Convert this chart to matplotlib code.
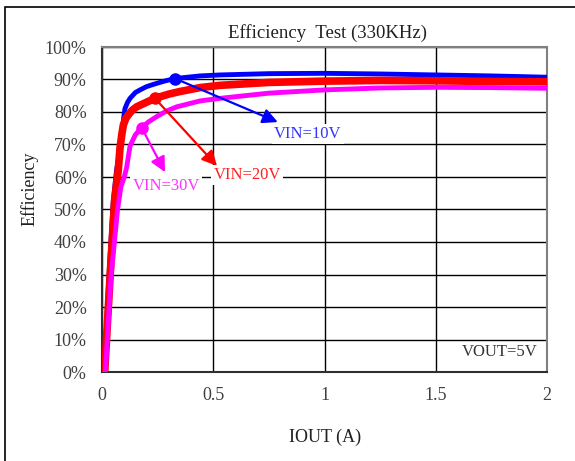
import matplotlib
matplotlib.use("Agg")
import matplotlib.pyplot as plt
from matplotlib.patches import Rectangle

# ---- data ----
iout_10v = [0.01, 0.03, 0.05, 0.065, 0.08, 0.09, 0.097, 0.103, 0.115, 0.126, 0.15, 0.171, 0.2, 0.231,
            0.28, 0.328, 0.44, 0.53, 0.75, 1.0, 1.25, 1.5, 1.75, 2.0]
eff_10v = [0, 28, 52, 62, 68, 73, 78, 81, 83, 84.2, 86, 86.8, 87.8, 88.5,
           89.5, 90.3, 91.1, 91.4, 91.8, 91.9, 91.7, 91.4, 91.1, 90.7]

iout_20v = [0.012, 0.036, 0.057, 0.073, 0.081, 0.09, 0.096, 0.107, 0.118, 0.135, 0.156, 0.2, 0.238,
            0.3, 0.35, 0.44, 0.53, 0.75, 1.0, 1.25, 1.5, 1.75, 2.0]
eff_20v = [0, 29, 53, 62, 69, 73.5, 76, 78, 79.1, 80.5, 81.6, 83, 84.2,
           85.5, 86.3, 87.5, 88.2, 89.1, 89.5, 89.7, 89.6, 89.4, 89.3]

iout_30v = [0.015, 0.04, 0.07, 0.085, 0.1, 0.111, 0.12, 0.126, 0.15, 0.178, 0.21, 0.246, 0.29, 0.336,
            0.44, 0.53, 0.75, 1.0, 1.25, 1.5, 1.75, 2.0]
eff_30v = [0, 29, 50, 57, 60, 63, 67, 69.5, 73, 75.2, 77, 78.6, 80.3, 81.6,
           83.4, 84.2, 85.8, 86.8, 87.4, 87.6, 87.5, 87.3]

marker_idx_10v = 15
marker_idx_20v = 12
marker_idx_30v = 9

x_ticks = [0, 0.5, 1, 1.5, 2]
x_tick_labels = ["0", "0.5", "1", "1.5", "2"]
y_ticks = list(range(0, 101, 10))
y_tick_labels = [f"{v}%" for v in y_ticks]

series_labels = ["VIN=10V", "VIN=20V", "VIN=30V"]
label_pos = [(0.926, 73.2), (0.652, 60.6), (0.288, 57.2)]
arrow_tips = [(0.79, 76.9), (0.517, 63.4), (0.283, 61.5)]

# ---- figure ----
plt.rcParams['font.family'] = ['Liberation Serif', 'DejaVu Serif']
W, H = 575, 461
fig = plt.figure(figsize=(W / 100, H / 100), dpi=100)
ax = fig.add_axes([102 / W, 1 - 372 / H, (547 - 102) / W, (372 - 47) / H])

fs = 13
colors = ['#0000ff', '#ff0000', '#ff00ff']
text_colors = ['#3333ff', '#ff2020', '#ff33ff']
lws = [3.5, 5.5, 3.5]

data = [(iout_10v, eff_10v, marker_idx_10v),
        (iout_20v, eff_20v, marker_idx_20v),
        (iout_30v, eff_30v, marker_idx_30v)]

for (xs, ys, mi), c, lw in zip(data, colors, lws):
    ax.plot(xs, ys, color=c, lw=lw, solid_capstyle='round', solid_joinstyle='round',
            marker='o', markevery=[mi], markersize=8, zorder=3)

for (xs, ys, mi), c, tc, lab, lp, tip in zip(data, colors, text_colors, series_labels, label_pos, arrow_tips):
    ax.annotate('', xy=tip, xytext=(xs[mi], ys[mi]),
                arrowprops=dict(arrowstyle='-|>,head_length=0.9,head_width=0.45', color=c, lw=1.6,
                                shrinkA=0, shrinkB=0), zorder=4)
    ax.text(lp[0], lp[1], lab, color=tc, fontsize=12, ha='center', va='center',
            bbox=dict(facecolor='white', edgecolor='none', pad=1.5), zorder=5)

ax.text(1.789, 6.2, "VOUT=5V", color='#333333', fontsize=12, ha='center', va='center',
        bbox=dict(facecolor='white', edgecolor='none', pad=1.5), zorder=5)

ax.set_xlim(0, 2)
ax.set_ylim(0, 100)
ax.set_xticks(x_ticks)
ax.set_xticklabels(x_tick_labels)
ax.set_yticks(y_ticks)
ax.set_yticklabels(y_tick_labels)
ax.tick_params(length=0, labelsize=fs, colors='#404040', pad=11)
ax.grid(True, color='black', lw=1.0, zorder=0)
ax.set_axisbelow(True)
for s in ['top', 'right']:
    ax.spines[s].set_color('#808080')
    ax.spines[s].set_linewidth(1.5)
for s in ['left', 'bottom']:
    ax.spines[s].set_color('#303030')
    ax.spines[s].set_linewidth(1.5)

ax.set_xlabel("IOUT (A)", fontsize=fs, color='#202020')
ax.set_ylabel("Efficiency", fontsize=fs, color='#202020')
ax.xaxis.set_label_coords((325 - 102) / 445, (372 - 437) / 325)
ax.yaxis.set_label_coords((30 - 102) / 445, (372 - 189) / 325)
ax.xaxis.label.set_va('center')
ax.yaxis.label.set_va('center')

fig.text(328 / W, 1 - 33 / H, "Efficiency  Test (330KHz)", fontsize=13.5, ha='center', va='center',
         color='#202020')

# outer frame
fig.patches.append(Rectangle((5 / W, -0.1), 1.2, 1 - 7 / H + 0.1, transform=fig.transFigure,
                             fill=False, edgecolor='black', lw=1.2, clip_on=False))

fig.savefig("out.png", dpi=100)
